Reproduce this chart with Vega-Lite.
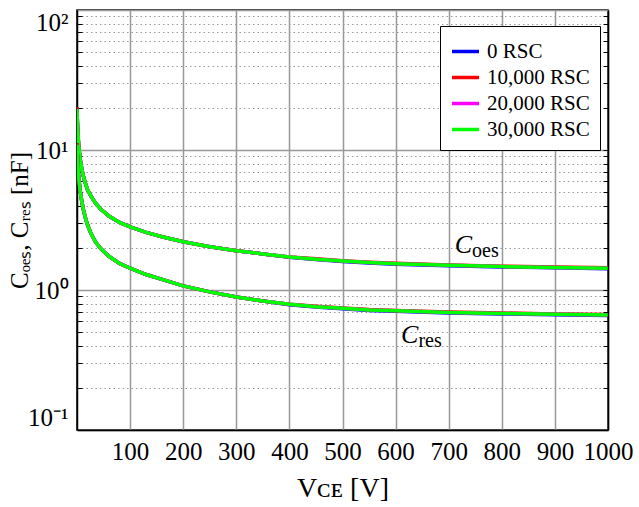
{
  "$schema": "https://vega.github.io/schema/vega-lite/v6.json",
  "width": 531,
  "height": 420,
  "autosize": {"type": "none"},
  "padding": {"left": 77, "top": 10, "right": 31, "bottom": 77},
  "background": "white",
  "config": {
    "view": {"stroke": "black", "strokeWidth": 1.5},
    "font": "Liberation Serif",
    "axis": {"labelFont": "Liberation Serif", "titleFont": "Liberation Serif", "labelColor": "black", "titleColor": "black", "titleFontWeight": "normal"},
    "legend": {"labelFont": "Liberation Serif"}
  },
  "datasets": {
    "curves": [
      {"V":0,"series":"0 RSC","Coes":19.6,"Cres":10.9},
      {"V":0.5,"series":"0 RSC","Coes":16.8,"Cres":9.6},
      {"V":1,"series":"0 RSC","Coes":15.0,"Cres":8.7},
      {"V":2,"series":"0 RSC","Coes":12.6,"Cres":7.4},
      {"V":3,"series":"0 RSC","Coes":11.05,"Cres":6.6},
      {"V":4,"series":"0 RSC","Coes":10.0,"Cres":6.0},
      {"V":6,"series":"0 RSC","Coes":8.6,"Cres":5.1},
      {"V":9,"series":"0 RSC","Coes":7.3,"Cres":4.3},
      {"V":12,"series":"0 RSC","Coes":6.5,"Cres":3.75},
      {"V":16,"series":"0 RSC","Coes":5.75,"Cres":3.25},
      {"V":20,"series":"0 RSC","Coes":5.2,"Cres":2.9},
      {"V":26,"series":"0 RSC","Coes":4.7,"Cres":2.55},
      {"V":35,"series":"0 RSC","Coes":4.17,"Cres":2.2},
      {"V":45,"series":"0 RSC","Coes":3.77,"Cres":1.97},
      {"V":60,"series":"0 RSC","Coes":3.38,"Cres":1.74},
      {"V":80,"series":"0 RSC","Coes":3.04,"Cres":1.55},
      {"V":100,"series":"0 RSC","Coes":2.82,"Cres":1.43},
      {"V":130,"series":"0 RSC","Coes":2.58,"Cres":1.29},
      {"V":160,"series":"0 RSC","Coes":2.4,"Cres":1.19},
      {"V":200,"series":"0 RSC","Coes":2.21,"Cres":1.07},
      {"V":250,"series":"0 RSC","Coes":2.04,"Cres":0.97},
      {"V":300,"series":"0 RSC","Coes":1.91,"Cres":0.89},
      {"V":350,"series":"0 RSC","Coes":1.81,"Cres":0.835},
      {"V":400,"series":"0 RSC","Coes":1.71,"Cres":0.785},
      {"V":450,"series":"0 RSC","Coes":1.65,"Cres":0.755},
      {"V":500,"series":"0 RSC","Coes":1.6,"Cres":0.735},
      {"V":550,"series":"0 RSC","Coes":1.56,"Cres":0.715},
      {"V":600,"series":"0 RSC","Coes":1.53,"Cres":0.705},
      {"V":700,"series":"0 RSC","Coes":1.49,"Cres":0.685},
      {"V":800,"series":"0 RSC","Coes":1.46,"Cres":0.675},
      {"V":900,"series":"0 RSC","Coes":1.44,"Cres":0.665},
      {"V":1000,"series":"0 RSC","Coes":1.42,"Cres":0.658},

      {"V":0,"series":"10,000 RSC","Coes":20.3,"Cres":11.2},
      {"V":0.5,"series":"10,000 RSC","Coes":16.9,"Cres":9.7},
      {"V":1,"series":"10,000 RSC","Coes":15.0,"Cres":8.7},
      {"V":2,"series":"10,000 RSC","Coes":12.6,"Cres":7.4},
      {"V":3,"series":"10,000 RSC","Coes":11.05,"Cres":6.6},
      {"V":4,"series":"10,000 RSC","Coes":10.0,"Cres":6.0},
      {"V":6,"series":"10,000 RSC","Coes":8.6,"Cres":5.1},
      {"V":9,"series":"10,000 RSC","Coes":7.3,"Cres":4.3},
      {"V":12,"series":"10,000 RSC","Coes":6.5,"Cres":3.75},
      {"V":16,"series":"10,000 RSC","Coes":5.75,"Cres":3.25},
      {"V":20,"series":"10,000 RSC","Coes":5.2,"Cres":2.9},
      {"V":26,"series":"10,000 RSC","Coes":4.7,"Cres":2.55},
      {"V":35,"series":"10,000 RSC","Coes":4.17,"Cres":2.2},
      {"V":45,"series":"10,000 RSC","Coes":3.77,"Cres":1.97},
      {"V":60,"series":"10,000 RSC","Coes":3.38,"Cres":1.74},
      {"V":80,"series":"10,000 RSC","Coes":3.04,"Cres":1.55},
      {"V":100,"series":"10,000 RSC","Coes":2.82,"Cres":1.43},
      {"V":130,"series":"10,000 RSC","Coes":2.58,"Cres":1.29},
      {"V":160,"series":"10,000 RSC","Coes":2.4,"Cres":1.19},
      {"V":200,"series":"10,000 RSC","Coes":2.21,"Cres":1.07},
      {"V":250,"series":"10,000 RSC","Coes":2.04,"Cres":0.97},
      {"V":300,"series":"10,000 RSC","Coes":1.91,"Cres":0.89},
      {"V":350,"series":"10,000 RSC","Coes":1.81,"Cres":0.835},
      {"V":400,"series":"10,000 RSC","Coes":1.72,"Cres":0.79},
      {"V":450,"series":"10,000 RSC","Coes":1.67,"Cres":0.765},
      {"V":500,"series":"10,000 RSC","Coes":1.62,"Cres":0.745},
      {"V":550,"series":"10,000 RSC","Coes":1.58,"Cres":0.725},
      {"V":600,"series":"10,000 RSC","Coes":1.55,"Cres":0.715},
      {"V":700,"series":"10,000 RSC","Coes":1.51,"Cres":0.695},
      {"V":800,"series":"10,000 RSC","Coes":1.48,"Cres":0.685},
      {"V":900,"series":"10,000 RSC","Coes":1.46,"Cres":0.675},
      {"V":1000,"series":"10,000 RSC","Coes":1.44,"Cres":0.668},

      {"V":0,"series":"20,000 RSC","Coes":19.6,"Cres":10.9},
      {"V":0.5,"series":"20,000 RSC","Coes":16.8,"Cres":9.6},
      {"V":1,"series":"20,000 RSC","Coes":15.0,"Cres":8.7},
      {"V":2,"series":"20,000 RSC","Coes":12.6,"Cres":7.4},
      {"V":3,"series":"20,000 RSC","Coes":11.05,"Cres":6.6},
      {"V":4,"series":"20,000 RSC","Coes":10.0,"Cres":6.0},
      {"V":6,"series":"20,000 RSC","Coes":8.6,"Cres":5.1},
      {"V":9,"series":"20,000 RSC","Coes":7.3,"Cres":4.3},
      {"V":12,"series":"20,000 RSC","Coes":6.5,"Cres":3.75},
      {"V":16,"series":"20,000 RSC","Coes":5.75,"Cres":3.25},
      {"V":20,"series":"20,000 RSC","Coes":5.2,"Cres":2.9},
      {"V":26,"series":"20,000 RSC","Coes":4.7,"Cres":2.55},
      {"V":35,"series":"20,000 RSC","Coes":4.17,"Cres":2.2},
      {"V":45,"series":"20,000 RSC","Coes":3.77,"Cres":1.97},
      {"V":60,"series":"20,000 RSC","Coes":3.38,"Cres":1.74},
      {"V":80,"series":"20,000 RSC","Coes":3.04,"Cres":1.55},
      {"V":100,"series":"20,000 RSC","Coes":2.82,"Cres":1.43},
      {"V":130,"series":"20,000 RSC","Coes":2.58,"Cres":1.29},
      {"V":160,"series":"20,000 RSC","Coes":2.4,"Cres":1.19},
      {"V":200,"series":"20,000 RSC","Coes":2.21,"Cres":1.07},
      {"V":250,"series":"20,000 RSC","Coes":2.04,"Cres":0.97},
      {"V":300,"series":"20,000 RSC","Coes":1.91,"Cres":0.89},
      {"V":350,"series":"20,000 RSC","Coes":1.81,"Cres":0.835},
      {"V":400,"series":"20,000 RSC","Coes":1.72,"Cres":0.79},
      {"V":450,"series":"20,000 RSC","Coes":1.66,"Cres":0.76},
      {"V":500,"series":"20,000 RSC","Coes":1.61,"Cres":0.74},
      {"V":550,"series":"20,000 RSC","Coes":1.57,"Cres":0.72},
      {"V":600,"series":"20,000 RSC","Coes":1.54,"Cres":0.71},
      {"V":700,"series":"20,000 RSC","Coes":1.5,"Cres":0.69},
      {"V":800,"series":"20,000 RSC","Coes":1.47,"Cres":0.68},
      {"V":900,"series":"20,000 RSC","Coes":1.45,"Cres":0.67},
      {"V":1000,"series":"20,000 RSC","Coes":1.43,"Cres":0.663},

      {"V":0,"series":"30,000 RSC","Coes":19.6,"Cres":10.9},
      {"V":0.5,"series":"30,000 RSC","Coes":16.8,"Cres":9.6},
      {"V":1,"series":"30,000 RSC","Coes":15.0,"Cres":8.7},
      {"V":2,"series":"30,000 RSC","Coes":12.6,"Cres":7.4},
      {"V":3,"series":"30,000 RSC","Coes":11.05,"Cres":6.6},
      {"V":4,"series":"30,000 RSC","Coes":10.0,"Cres":6.0},
      {"V":6,"series":"30,000 RSC","Coes":8.6,"Cres":5.1},
      {"V":9,"series":"30,000 RSC","Coes":7.3,"Cres":4.3},
      {"V":12,"series":"30,000 RSC","Coes":6.5,"Cres":3.75},
      {"V":16,"series":"30,000 RSC","Coes":5.75,"Cres":3.25},
      {"V":20,"series":"30,000 RSC","Coes":5.2,"Cres":2.9},
      {"V":26,"series":"30,000 RSC","Coes":4.7,"Cres":2.55},
      {"V":35,"series":"30,000 RSC","Coes":4.17,"Cres":2.2},
      {"V":45,"series":"30,000 RSC","Coes":3.77,"Cres":1.97},
      {"V":60,"series":"30,000 RSC","Coes":3.38,"Cres":1.74},
      {"V":80,"series":"30,000 RSC","Coes":3.04,"Cres":1.55},
      {"V":100,"series":"30,000 RSC","Coes":2.82,"Cres":1.43},
      {"V":130,"series":"30,000 RSC","Coes":2.58,"Cres":1.29},
      {"V":160,"series":"30,000 RSC","Coes":2.4,"Cres":1.19},
      {"V":200,"series":"30,000 RSC","Coes":2.21,"Cres":1.07},
      {"V":250,"series":"30,000 RSC","Coes":2.04,"Cres":0.97},
      {"V":300,"series":"30,000 RSC","Coes":1.91,"Cres":0.89},
      {"V":350,"series":"30,000 RSC","Coes":1.81,"Cres":0.835},
      {"V":400,"series":"30,000 RSC","Coes":1.72,"Cres":0.79},
      {"V":450,"series":"30,000 RSC","Coes":1.66,"Cres":0.76},
      {"V":500,"series":"30,000 RSC","Coes":1.61,"Cres":0.74},
      {"V":550,"series":"30,000 RSC","Coes":1.57,"Cres":0.72},
      {"V":600,"series":"30,000 RSC","Coes":1.54,"Cres":0.71},
      {"V":700,"series":"30,000 RSC","Coes":1.5,"Cres":0.69},
      {"V":800,"series":"30,000 RSC","Coes":1.47,"Cres":0.68},
      {"V":900,"series":"30,000 RSC","Coes":1.45,"Cres":0.67},
      {"V":1000,"series":"30,000 RSC","Coes":1.43,"Cres":0.663}
    ],
    "notes": [
      {"V": 744, "C": 1.83, "main": "C", "sub": "oes"},
      {"V": 643, "C": 0.416, "main": "C", "sub": "res"}
    ]
  },
  "layer": [
    {
      "data": {"name": "curves"},
      "mark": {"type": "line", "strokeWidth": 3.5, "clip": true},
      "encoding": {
        "x": {
          "field": "V", "type": "quantitative",
          "scale": {"domain": [0, 1000], "nice": false},
          "axis": {
            "orient": "bottom",
            "values": [100, 200, 300, 400, 500, 600, 700, 800, 900, 1000],
            "format": "d",
            "grid": true, "gridColor": "#999999", "gridWidth": 1.5,
            "domainColor": "black", "domainWidth": 1.5,
            "ticks": false,
            "labelFontSize": 25, "labelPadding": 9, "labelFlush": false,
            "title": "Vᴄᴇ [V]", "titleFontSize": 28, "titlePadding": 10
          }
        },
        "y": {
          "field": "Coes", "type": "quantitative",
          "scale": {"type": "log", "domain": [0.1, 100], "nice": false},
          "axis": {
            "orient": "left",
            "values": [0.1, 1, 10, 100],
            "labelExpr": "datum.value >= 99 ? '10²' : datum.value >= 9 ? '10¹' : datum.value >= 0.9 ? '10⁰' : '10⁻¹'",
            "grid": true, "gridColor": "#999999", "gridWidth": 1.5,
            "domainColor": "black", "domainWidth": 1.5,
            "ticks": false,
            "labelFontSize": 25, "labelPadding": 9, "labelFlush": true, "labelFlushOffset": 0,
            "title": "Cₒₑₛ, Cᵣₑₛ [nF]", "titleFontSize": 25, "titleX": -45
          }
        },
        "color": {
          "field": "series", "type": "nominal",
          "scale": {
            "domain": ["0 RSC", "10,000 RSC", "20,000 RSC", "30,000 RSC"],
            "range": ["#0000ff", "#ff0000", "#ff00ff", "#00ff00"]
          },
          "legend": {
            "orient": "none", "legendX": 363, "legendY": 16,
            "title": null,
            "symbolType": "stroke", "symbolStrokeWidth": 3.5, "symbolSize": 729,
            "labelFont": "Liberation Serif",
            "labelFontSize": 21, "labelColor": "black", "labelOffset": 6,
            "strokeColor": "black", "fillColor": "white",
            "padding": 10, "rowPadding": 0
          }
        }
      }
    },
    {
      "data": {"name": "curves"},
      "mark": {"type": "line", "strokeWidth": 3.5, "clip": true},
      "encoding": {
        "x": {"field": "V", "type": "quantitative", "axis": null},
        "y": {
          "field": "Cres", "type": "quantitative",
          "axis": {
            "orient": "left",
            "values": [0.2, 0.3, 0.4, 0.5, 0.6, 0.7, 0.8, 0.9, 2, 3, 4, 5, 6, 7, 8, 9, 20, 30, 40, 50, 60, 70, 80, 90],
            "grid": true, "gridColor": "#999999", "gridWidth": 1, "gridDash": [1.5, 3],
            "labels": false, "domain": false,
            "ticks": true, "tickSize": -5, "tickColor": "black", "tickWidth": 1,
            "title": null
          }
        },
        "color": {"field": "series", "type": "nominal"}
      }
    },
    {
      "data": {"name": "notes"},
      "mark": {"type": "text", "align": "right", "baseline": "alphabetic", "fontStyle": "italic", "fontSize": 26, "font": "Liberation Serif", "color": "black"},
      "encoding": {
        "x": {"field": "V", "type": "quantitative", "axis": null},
        "y": {
          "field": "C", "type": "quantitative",
          "axis": {
            "orient": "right",
            "values": [0.2, 0.3, 0.4, 0.5, 0.6, 0.7, 0.8, 0.9, 1, 2, 3, 4, 5, 6, 7, 8, 9, 10, 20, 30, 40, 50, 60, 70, 80, 90],
            "grid": false, "labels": false,
            "ticks": true, "tickSize": -5, "tickColor": "black", "tickWidth": 1,
            "domainColor": "black", "domainWidth": 1.5,
            "title": null, "zindex": 1
          }
        },
        "text": {"field": "main"}
      }
    },
    {
      "data": {"name": "notes"},
      "mark": {"type": "text", "align": "left", "baseline": "alphabetic", "dy": 4, "fontSize": 20, "font": "Liberation Serif", "color": "black"},
      "encoding": {
        "x": {"field": "V", "type": "quantitative", "axis": null},
        "y": {"field": "C", "type": "quantitative", "axis": null},
        "text": {"field": "sub"}
      }
    }
  ],
  "resolve": {"axis": {"x": "independent", "y": "independent"}}
}
